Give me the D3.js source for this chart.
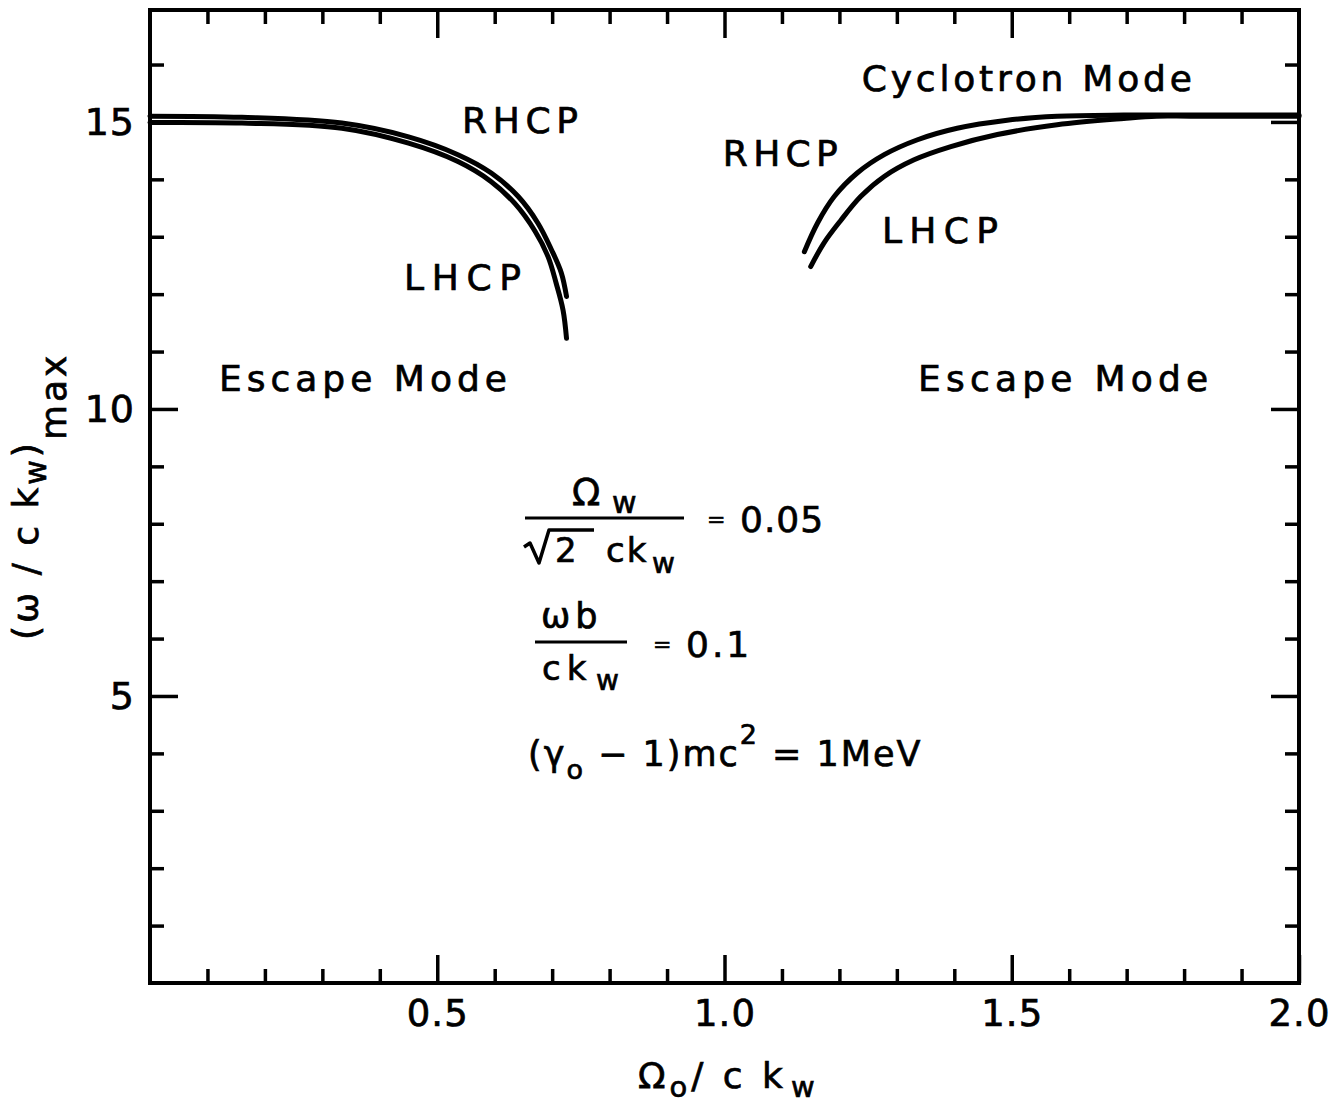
<html>

<head>
    <style>
        body { margin: 0; background: white; }
        text { font-family: "DejaVu Sans", "Liberation Sans", sans-serif; fill: black; stroke: black; stroke-width: 0.7px; }
    </style>
</head>

<body>
    <svg id="container" height="1104" width="1342">
        <g id="body" />
    </svg>
</body>
<script src="https://cdn.jsdelivr.net/npm/d3@7"></script>

<script>
    // Omega0/ckw (x) and (omega/ckw)max (y)
    const lowRHCPx = [0, 0.16, 0.334, 0.45, 0.536, 0.594, 0.641, 0.675, 0.699, 0.716, 0.725]
    const lowRHCPy = [15.1, 15.08, 14.98, 14.74, 14.43, 14.11, 13.70, 13.24, 12.77, 12.37, 11.96]
    const lowLHCPx = [0, 0.16, 0.334, 0.45, 0.536, 0.594, 0.635, 0.670, 0.693, 0.707, 0.719, 0.725]
    const lowLHCPy = [14.99, 14.98, 14.89, 14.63, 14.31, 13.96, 13.58, 13.10, 12.65, 12.19, 11.72, 11.23]
    const highRHCPx = [1.139, 1.162, 1.191, 1.231, 1.278, 1.336, 1.405, 1.492, 1.579, 1.695, 1.811, 2.0]
    const highRHCPy = [12.74, 13.24, 13.70, 14.11, 14.43, 14.69, 14.89, 15.03, 15.10, 15.12, 15.12, 15.12]
    const highLHCPx = [1.150, 1.173, 1.202, 1.237, 1.278, 1.330, 1.394, 1.475, 1.579, 1.695, 1.752, 1.811, 2.0]
    const highLHCPy = [12.48, 12.89, 13.28, 13.70, 14.05, 14.34, 14.57, 14.78, 14.95, 15.06, 15.10, 15.10, 15.10]

    const xMajor = [0.5, 1.0, 1.5, 2.0]
    const xMinor = [0.1, 0.2, 0.3, 0.4, 0.6, 0.7, 0.8, 0.9, 1.1, 1.2, 1.3, 1.4, 1.6, 1.7, 1.8, 1.9]
    const yMajor = [5, 10, 15]
    const yMinor = [1, 2, 3, 4, 6, 7, 8, 9, 11, 12, 13, 14, 16]

    // region labels, in data units (x, baseline y)
    const notes = [
        { text: "RHCP", x: 0.543, y: 14.81 },
        { text: "LHCP", x: 0.442, y: 12.07 },
        { text: "Escape Mode", x: 0.120, y: 10.31 },
        { text: "RHCP", x: 0.997, y: 14.23 },
        { text: "Cyclotron Mode", x: 1.239, y: 15.54 },
        { text: "LHCP", x: 1.274, y: 12.89 },
        { text: "Escape Mode", x: 1.337, y: 10.31 }
    ]
    const noteWidths = [116, 117, 288, 115, 330, 116, 290]

    let body = d3.select("#body")
    let plotLeft = 150, plotRight = 1299, plotTop = 10, plotBottom = 983

    let x = d3.scaleLinear().domain([0, 2]).range([plotLeft, plotRight])
    let y = d3.scaleLinear().domain([0, 16.95]).range([plotBottom, plotTop])

    function drawTicks() {
        let g
        // bottom
        g = body.append("g").attr("transform", `translate(0,${plotBottom})`)
        g.call(d3.axisBottom(x).tickValues(xMinor).tickSize(-14).tickSizeOuter(0).tickFormat(""))
        g = body.append("g").attr("transform", `translate(0,${plotBottom})`)
        g.call(d3.axisBottom(x).tickValues(xMajor).tickSize(-28).tickSizeOuter(0).tickPadding(17)
            .tickFormat(d3.format(".1f")))
        g.selectAll("text").attr("font-size", 37).attr("letter-spacing", 1)
        // top
        g = body.append("g").attr("transform", `translate(0,${plotTop})`)
        g.call(d3.axisTop(x).tickValues(xMinor).tickSize(-14).tickSizeOuter(0).tickFormat(""))
        g = body.append("g").attr("transform", `translate(0,${plotTop})`)
        g.call(d3.axisTop(x).tickValues(xMajor.slice(0, 3)).tickSize(-28).tickSizeOuter(0).tickFormat(""))
        // left
        g = body.append("g").attr("transform", `translate(${plotLeft},0)`)
        g.call(d3.axisLeft(y).tickValues(yMinor).tickSize(-14).tickSizeOuter(0).tickFormat(""))
        g = body.append("g").attr("transform", `translate(${plotLeft},0)`)
        g.call(d3.axisLeft(y).tickValues(yMajor).tickSize(-28).tickSizeOuter(0).tickPadding(15))
        g.selectAll("text").attr("font-size", 38).attr("letter-spacing", 1)
        // right
        g = body.append("g").attr("transform", `translate(${plotRight},0)`)
        g.call(d3.axisRight(y).tickValues(yMinor).tickSize(-14).tickSizeOuter(0).tickFormat(""))
        g = body.append("g").attr("transform", `translate(${plotRight},0)`)
        g.call(d3.axisRight(y).tickValues(yMajor).tickSize(-28).tickSizeOuter(0).tickFormat(""))

        body.selectAll(".domain").remove()
        body.selectAll(".tick line").attr("stroke", "black").attr("stroke-width", 3.5)
        body.selectAll("g text").attr("font-family", null).attr("fill", "black")

        body.append("rect")
            .attr("x", plotLeft).attr("y", plotTop)
            .attr("width", plotRight - plotLeft).attr("height", plotBottom - plotTop)
            .attr("fill", "none").attr("stroke", "black").attr("stroke-width", 4)
    }

    function drawCurves() {
        let line = d3.line()
            .x(d => x(d[0]))
            .y(d => y(d[1]))
            .curve(d3.curveCatmullRom.alpha(0.5))

        let curves = [
            d3.zip(lowRHCPx, lowRHCPy),
            d3.zip(lowLHCPx, lowLHCPy),
            d3.zip(highRHCPx, highRHCPy),
            d3.zip(highLHCPx, highLHCPy)
        ]

        body.selectAll("path.curve").data(curves)
            .enter().append("path")
            .attr("class", "curve")
            .attr("d", d => line(d))
            .attr("fill", "none")
            .attr("stroke", "black")
            .attr("stroke-width", 5)
            .attr("stroke-linecap", "round")
    }

    function drawNotes() {
        body.selectAll("text.note").data(notes)
            .enter().append("text")
            .attr("class", "note")
            .attr("x", d => x(d.x))
            .attr("y", d => y(d.y))
            .attr("font-size", 36)
            .attr("textLength", (d, i) => noteWidths[i])
            .attr("lengthAdjust", "spacing")
            .text(d => d.text)
    }

    function drawFormulas() {
        let f = body.append("g")
        // Omega_w / (sqrt2 ck_w) = 0.05
        f.append("text").attr("x", 572).attr("y", 505).attr("font-size", 37).text("Ω")
        f.append("text").attr("x", 612).attr("y", 513).attr("font-size", 30).text("w")
        f.append("line").attr("x1", 525).attr("x2", 684).attr("y1", 518).attr("y2", 518)
            .attr("stroke", "black").attr("stroke-width", 3)
        f.append("path")
            .attr("d", "M524,547 L530,543 L539,563 L549,530 L594,530")
            .attr("fill", "none").attr("stroke", "black").attr("stroke-width", 3.5)
            .attr("stroke-linejoin", "round")
        f.append("text").attr("x", 555).attr("y", 562).attr("font-size", 34).text("2")
        f.append("text").attr("x", 606).attr("y", 562).attr("font-size", 34).attr("letter-spacing", 2).text("ck")
        f.append("text").attr("x", 652).attr("y", 573).attr("font-size", 28).text("w")
        f.append("text").attr("x", 707).attr("y", 527).attr("font-size", 22).text("=")
        f.append("text").attr("x", 740).attr("y", 532).attr("font-size", 36).attr("letter-spacing", 1).text("0.05")

        // omega_b / ck_w = 0.1
        f.append("text").attr("x", 541).attr("y", 628).attr("font-size", 35).attr("letter-spacing", 5).text("ωb")
        f.append("line").attr("x1", 535).attr("x2", 627).attr("y1", 642).attr("y2", 642)
            .attr("stroke", "black").attr("stroke-width", 3)
        f.append("text").attr("x", 542).attr("y", 680).attr("font-size", 34).attr("letter-spacing", 6).text("ck")
        f.append("text").attr("x", 596).attr("y", 690).attr("font-size", 28).text("w")
        f.append("text").attr("x", 653).attr("y", 652).attr("font-size", 22).text("=")
        f.append("text").attr("x", 686).attr("y", 657).attr("font-size", 36).attr("letter-spacing", 3).text("0.1")

        // (gamma0 - 1) mc^2 = 1 MeV
        let t = f.append("text").attr("x", 528).attr("y", 766).attr("font-size", 35).attr("letter-spacing", 2)
        t.append("tspan").text("(γ")
        t.append("tspan").attr("font-size", 27).attr("dy", 13).text("o")
        t.append("tspan").attr("dy", -13).text(" − 1)mc")
        t.append("tspan").attr("font-size", 27).attr("dy", -22).text("2")
        t.append("tspan").attr("dy", 22).text(" = 1MeV")
    }

    function drawTitles() {
        let t = body.append("text").attr("x", 638).attr("y", 1088).attr("font-size", 36).attr("letter-spacing", 4)
        t.append("tspan").text("Ω")
        t.append("tspan").attr("font-size", 29).attr("dy", 9).text("o")
        t.append("tspan").attr("dy", -9).text("/ c k")
        t.append("tspan").attr("font-size", 29).attr("dy", 9).attr("dx", 4).text("w")

        let r = body.append("text")
            .attr("transform", "translate(38,640) rotate(-90)")
            .attr("font-size", 36).attr("letter-spacing", 3)
        r.append("tspan").text("(ω / c k")
        r.append("tspan").attr("dy", 8).attr("font-size", 30).text("w")
        r.append("tspan").attr("dy", -8).text(")")
        r.append("tspan").attr("dy", 28).text("max")
    }

    drawTicks()
    drawCurves()
    drawNotes()
    drawFormulas()
    drawTitles()
</script>

</html>
